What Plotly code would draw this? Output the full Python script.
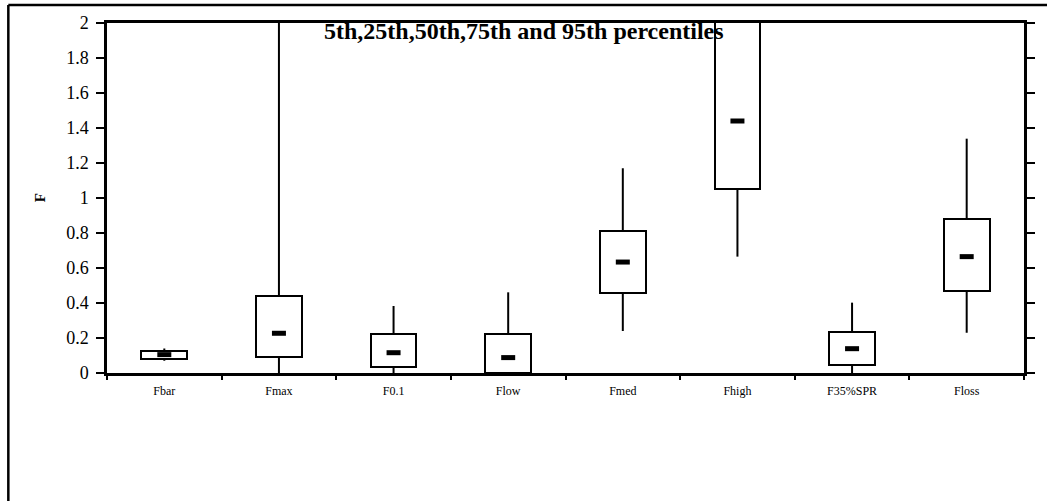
import plotly.graph_objects as go

categories = ["Fbar", "Fmax", "F0.1", "Flow", "Fmed", "Fhigh", "F35%SPR", "Floss"]
p5 = [0.07, 0.0, 0.0, 0.0, 0.24, 0.665, 0.0, 0.23]
p25 = [0.08, 0.093, 0.033, 0.0, 0.457, 1.053, 0.046, 0.469]
p50 = [0.105, 0.227, 0.116, 0.088, 0.634, 1.44, 0.139, 0.665]
p75 = [0.126, 0.44, 0.221, 0.221, 0.813, 2.3, 0.233, 0.882]
p95 = [0.14, 2.6, 0.383, 0.461, 1.17, 2.6, 0.402, 1.339]

SERIF = "Liberation Serif, Times New Roman, serif"

fig = go.Figure()

# whiskers
wx, wy = [], []
for c, a, b, d, e in zip(categories, p5, p25, p75, p95):
    wx += [c, c, None, c, c, None]
    wy += [a, b, None, d, e, None]
fig.add_trace(go.Scatter(x=wx, y=wy, mode="lines",
                         line=dict(color="black", width=2),
                         hoverinfo="skip", showlegend=False))

# boxes (25th-75th)
fig.add_trace(go.Bar(x=categories, y=[h - l for l, h in zip(p25, p75)], base=p25,
                     width=0.4, marker=dict(color="white", line=dict(color="black", width=2)),
                     showlegend=False))

# medians
fig.add_trace(go.Scatter(x=categories, y=p50, mode="markers",
                         marker=dict(symbol="line-ew", size=10,
                                     line=dict(color="black", width=5)),
                         showlegend=False))

fig.update_layout(
    width=1047, height=501,
    margin=dict(l=107, r=20, t=23, b=128),
    paper_bgcolor="white", plot_bgcolor="white",
    font=dict(family=SERIF, color="black"),
    bargap=0,
    xaxis=dict(type="category", showline=True, linecolor="black", linewidth=2.5,
               mirror=True, ticks="outside", tickson="boundaries", ticklen=4,
               tickwidth=2, tickcolor="black", showgrid=False, zeroline=False,
               ticklabelstandoff=5,
               tickfont=dict(family=SERIF, size=12, color="black"), range=[-0.5, 7.5]),
    yaxis=dict(range=[0, 2], showline=True, linecolor="black", linewidth=2.5,
               mirror="ticks", ticks="outside", ticklen=8, tickwidth=2, tickcolor="black",
               showgrid=False, zeroline=False, ticklabelstandoff=4,
               tickvals=[0, 0.2, 0.4, 0.6, 0.8, 1, 1.2, 1.4, 1.6, 1.8, 2],
               ticktext=["0", "0.2", "0.4", "0.6", "0.8", "1", "1.2", "1.4", "1.6", "1.8", "2"],
               tickfont=dict(family=SERIF, size=18, color="black")),
    annotations=[
        dict(text="<b>5th,25th,50th,75th and 95th percentiles</b>", xref="paper", yref="paper",
             x=0.4543, y=0.977, xanchor="center", yanchor="middle", showarrow=False,
             font=dict(family=SERIF, size=24, color="black")),
        dict(text="<b>F</b>", xref="paper", yref="paper", x=-0.0728, y=0.5,
             xanchor="center", yanchor="middle", showarrow=False, textangle=-90,
             font=dict(family=SERIF, size=15, color="black")),
    ],
    shapes=[
        dict(type="line", xref="paper", yref="paper", x0=-0.1076, x1=1.03, y0=1.0514, y1=1.0514,
             line=dict(color="black", width=2.5)),
        dict(type="line", xref="paper", yref="paper", x0=-0.1076, x1=-0.1076, y0=1.0514, y1=-0.4,
             line=dict(color="black", width=2.5)),
    ],
)

fig.write_html("out.html")
